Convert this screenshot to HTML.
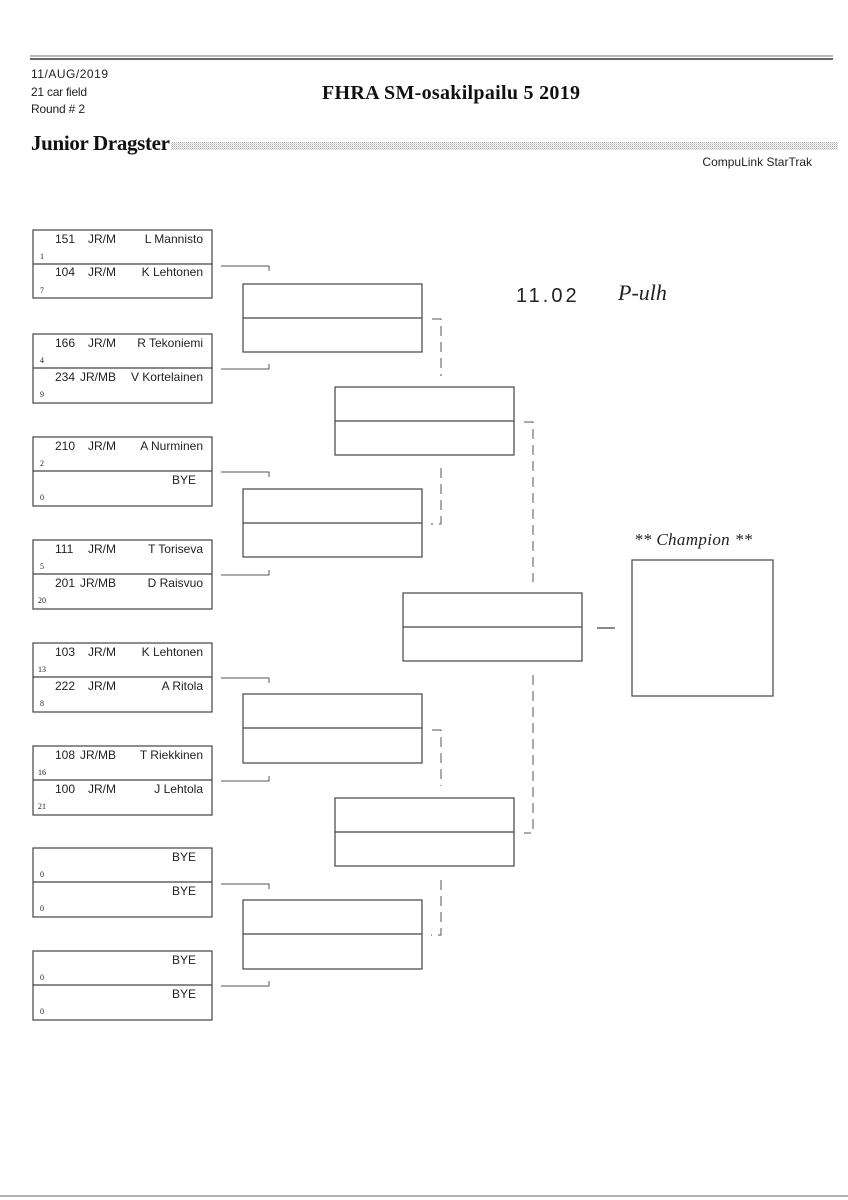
<!DOCTYPE html>
<html><head><meta charset="utf-8"><style>
html,body{margin:0;padding:0;background:#fff}
svg{display:block}
.t{font-family:"Liberation Sans Narrow","Liberation Sans",sans-serif;font-size:12px;fill:#222}
.s{font-family:"Liberation Serif",serif;font-size:8px;fill:#222}
</style></head><body>
<svg width="848" height="1200" viewBox="0 0 848 1200" xmlns="http://www.w3.org/2000/svg">
<defs><pattern id="dots" width="2" height="2" patternUnits="userSpaceOnUse"><rect width="1" height="1" fill="#aaa"/><rect x="1" y="1" width="1" height="1" fill="#ccc"/></pattern></defs>
<line x1="30" y1="56" x2="833" y2="56" stroke="#777" stroke-width="1"/>
<line x1="30" y1="59" x2="833" y2="59" stroke="#333" stroke-width="1.5"/>
<text x="31" y="78" font-family="Liberation Sans Narrow, Liberation Sans, sans-serif" font-size="12" fill="#222" textLength="77">11/AUG/2019</text>
<text x="31" y="96" font-family="Liberation Sans Narrow, Liberation Sans, sans-serif" font-size="12" fill="#222" textLength="56">21 car field</text>
<text x="31" y="113" font-family="Liberation Sans Narrow, Liberation Sans, sans-serif" font-size="12" fill="#222" textLength="54">Round # 2</text>
<text x="322" y="99" font-family="Liberation Serif, serif" font-size="20" font-weight="bold" fill="#111" textLength="258">FHRA SM-osakilpailu 5  2019</text>
<text x="31" y="150" font-family="Liberation Serif, serif" font-size="21" font-weight="bold" fill="#111" textLength="139">Junior Dragster</text>
<rect x="171" y="142" width="667" height="8" fill="url(#dots)"/>
<text x="812" y="166" text-anchor="end" font-family="Liberation Sans Narrow, Liberation Sans, sans-serif" font-size="12" fill="#222">CompuLink StarTrak</text>

<g fill="none" stroke="#444" stroke-width="1.2">
<rect x="33" y="230" width="179" height="68"/><line x1="33" y1="264" x2="212" y2="264"/>
<rect x="33" y="334" width="179" height="69"/><line x1="33" y1="368" x2="212" y2="368"/>
<rect x="33" y="437" width="179" height="69"/><line x1="33" y1="471" x2="212" y2="471"/>
<rect x="33" y="540" width="179" height="69"/><line x1="33" y1="574" x2="212" y2="574"/>
<rect x="33" y="643" width="179" height="69"/><line x1="33" y1="677" x2="212" y2="677"/>
<rect x="33" y="746" width="179" height="69"/><line x1="33" y1="780" x2="212" y2="780"/>
<rect x="33" y="848" width="179" height="69"/><line x1="33" y1="882" x2="212" y2="882"/>
<rect x="33" y="951" width="179" height="69"/><line x1="33" y1="985" x2="212" y2="985"/>
<rect x="243" y="284" width="179" height="68"/><line x1="243" y1="318" x2="422" y2="318"/>
<rect x="243" y="489" width="179" height="68"/><line x1="243" y1="523" x2="422" y2="523"/>
<rect x="243" y="694" width="179" height="69"/><line x1="243" y1="728" x2="422" y2="728"/>
<rect x="243" y="900" width="179" height="69"/><line x1="243" y1="934" x2="422" y2="934"/>
<rect x="335" y="387" width="179" height="68"/><line x1="335" y1="421" x2="514" y2="421"/>
<rect x="335" y="798" width="179" height="68"/><line x1="335" y1="832" x2="514" y2="832"/>
<rect x="403" y="593" width="179" height="68"/><line x1="403" y1="627" x2="582" y2="627"/>
<rect x="632" y="560" width="141" height="136"/>
<line x1="597" y1="628" x2="615" y2="628"/>
</g>
<g fill="none" stroke="#555" stroke-width="1">
<path d="M221 266H269V271"/><path d="M221 369H269V364"/>
<path d="M221 472H269V477"/><path d="M221 575H269V570"/>
<path d="M221 678H269V683"/><path d="M221 781H269V776"/>
<path d="M221 884H269V889"/><path d="M221 986H269V981"/>
<path d="M432 319H441V376" stroke-dasharray="10,6"/>
<path d="M441 468V524H431" stroke-dasharray="10,6"/>
<path d="M432 730H441V786" stroke-dasharray="10,6"/>
<path d="M441 880V935H431" stroke-dasharray="10,6"/>
<path d="M524 422H533V582" stroke-dasharray="10,6"/>
<path d="M533 675V833H524" stroke-dasharray="10,6"/>
</g>

<g class="t">
<text x="55" y="243">151</text><text x="88" y="243">JR/M</text><text x="203" y="243" text-anchor="end">L Mannisto</text>
<text x="55" y="276">104</text><text x="88" y="276">JR/M</text><text x="203" y="276" text-anchor="end">K Lehtonen</text>
<text x="55" y="347">166</text><text x="88" y="347">JR/M</text><text x="203" y="347" text-anchor="end">R Tekoniemi</text>
<text x="55" y="381">234</text><text x="80" y="381">JR/MB</text><text x="203" y="381" text-anchor="end">V Kortelainen</text>
<text x="55" y="450">210</text><text x="88" y="450">JR/M</text><text x="203" y="450" text-anchor="end">A Nurminen</text>
<text x="196" y="484" text-anchor="end">BYE</text>
<text x="55" y="553">111</text><text x="88" y="553">JR/M</text><text x="203" y="553" text-anchor="end">T Toriseva</text>
<text x="55" y="587">201</text><text x="80" y="587">JR/MB</text><text x="203" y="587" text-anchor="end">D Raisvuo</text>
<text x="55" y="656">103</text><text x="88" y="656">JR/M</text><text x="203" y="656" text-anchor="end">K Lehtonen</text>
<text x="55" y="690">222</text><text x="88" y="690">JR/M</text><text x="203" y="690" text-anchor="end">A Ritola</text>
<text x="55" y="759">108</text><text x="80" y="759">JR/MB</text><text x="203" y="759" text-anchor="end">T Riekkinen</text>
<text x="55" y="793">100</text><text x="88" y="793">JR/M</text><text x="203" y="793" text-anchor="end">J Lehtola</text>
<text x="196" y="861" text-anchor="end">BYE</text>
<text x="196" y="895" text-anchor="end">BYE</text>
<text x="196" y="964" text-anchor="end">BYE</text>
<text x="196" y="998" text-anchor="end">BYE</text>
</g>
<g class="s">
<text x="40" y="259">1</text><text x="40" y="293">7</text>
<text x="40" y="363">4</text><text x="40" y="397">9</text>
<text x="40" y="466">2</text><text x="40" y="500">0</text>
<text x="40" y="569">5</text><text x="38" y="603">20</text>
<text x="38" y="672">13</text><text x="40" y="706">8</text>
<text x="38" y="775">16</text><text x="38" y="809">21</text>
<text x="40" y="877">0</text><text x="40" y="911">0</text>
<text x="40" y="980">0</text><text x="40" y="1014">0</text>
</g>
<text x="634" y="545" font-family="Liberation Serif, serif" font-size="17" font-style="italic" fill="#222" textLength="118">** Champion **</text>
<text x="516" y="302" font-family="Liberation Sans, sans-serif" font-size="20" fill="#222" letter-spacing="3">11.02</text>
<text x="618" y="300" font-family="Liberation Serif, serif" font-size="22" fill="#222" font-style="italic">P-ulh</text>
<line x1="0" y1="1196" x2="848" y2="1196" stroke="#666" stroke-width="1"/>
</svg>
</body></html>
